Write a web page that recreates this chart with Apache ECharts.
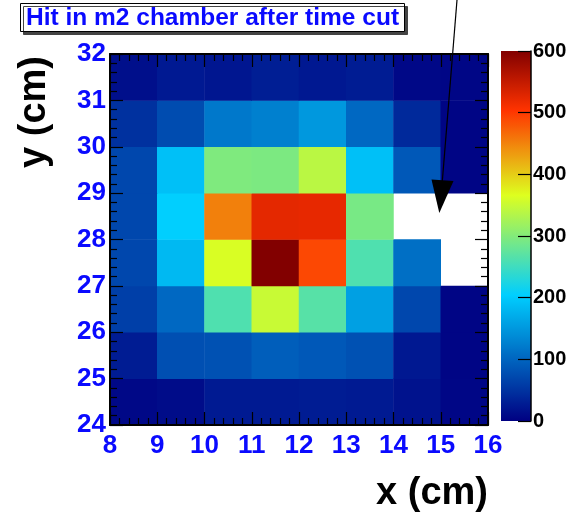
<!DOCTYPE html>
<html>
<head>
<meta charset="utf-8">
<script src="https://cdn.jsdelivr.net/npm/echarts@6/dist/echarts.min.js"></script>
<style>
  html, body { margin: 0; padding: 0; background: #fff; }
  #chart { width: 581px; height: 513px; }
</style>
</head>
<body>
<div id="chart"></div>
<script>
// Bin lower edges (1 cm bins)
const xBins = ['8', '9', '10', '11', '12', '13', '14', '15'];
const yBins = ['24', '25', '26', '27', '28', '29', '30', '31'];

// Hit counts per row, x = 8..15 (null = empty bin)
const row24 = [8, 12, 26, 26, 28, 26, 18, 6];
const row25 = [28, 78, 80, 93, 87, 80, 24, 5];
const row26 = [62, 103, 262, 350, 268, 158, 70, 5];
const row27 = [70, 183, 362, 600, 490, 262, 110, null];
const row28 = [70, 205, 452, 525, 523, 292, null, null];
const row29 = [70, 190, 297, 295, 340, 190, 87, 5];
const row30 = [48, 75, 118, 126, 150, 103, 40, 5];
const row31 = [15, 25, 22, 30, 24, 28, 8, 6];
const rows = [row24, row25, row26, row27, row28, row29, row30, row31];

// Colour scale
const zMin = 0;
const zMax = 600;
const zTicks = 100;

// Gradient palette: stops / red / green / blue
const palStops = [0.00, 0.34, 0.61, 0.84, 1.00];
const palRed   = [0.00, 0.00, 0.87, 1.00, 0.51];
const palGreen = [0.00, 0.81, 1.00, 0.20, 0.00];
const palBlue  = [0.51, 1.00, 0.12, 0.00, 0.00];

function paletteAt(t) {
  let i = 0;
  while (i < palStops.length - 2 && t > palStops[i + 1]) i++;
  const f = (t - palStops[i]) / (palStops[i + 1] - palStops[i]);
  const ch = a => Math.round(255 * (a[i] + (a[i + 1] - a[i]) * f));
  return 'rgb(' + ch(palRed) + ',' + ch(palGreen) + ',' + ch(palBlue) + ')';
}
const palette = [];
for (let k = 0; k <= 100; k++) palette.push(paletteAt(k / 100));

const cells = [];
rows.forEach((r, yi) => r.forEach((v, xi) => {
  if (v !== null) cells.push([xi, yi, v]);
}));

const FONT = '"Liberation Sans", Arial, Helvetica, sans-serif';
const BLUE = '#0a0aff';

const valueAxisCommon = {
  type: 'value',
  gridIndex: 0,
  z: 10,
  interval: 1,
  axisLine: { show: true, onZero: false, lineStyle: { color: '#000', width: 2 } },
  axisTick: { show: true, inside: true, length: 13, lineStyle: { color: '#000', width: 1.2 } },
  minorTick: { show: true, splitNumber: 5, length: 7, lineStyle: { color: '#000', width: 1.2 } },
  splitLine: { show: false }
};
const labelStyle = { color: BLUE, fontFamily: FONT, fontWeight: 'bold', fontSize: 26 };

const chart = echarts.init(document.getElementById('chart'), null, { renderer: 'canvas' });
chart.setOption({
  animation: false,
  backgroundColor: '#fff',
  title: {
    text: 'Hit in m2 chamber after time cut',
    left: 20,
    top: 5,
    padding: [2, 6, 1, 6],
    backgroundColor: '#fff',
    borderColor: '#000',
    borderWidth: 1,
    shadowColor: '#444',
    shadowOffsetX: 3,
    shadowOffsetY: 3,
    shadowBlur: 0,
    textStyle: { color: BLUE, fontFamily: FONT, fontWeight: 'bold', fontSize: 24.5, lineHeight: 22 }
  },
  grid: [
    { left: 110, top: 54, right: 93, bottom: 88, containLabel: false },
    { left: 501, top: 51, width: 30, height: 370, containLabel: false }
  ],
  xAxis: [
    { type: 'category', gridIndex: 0, data: xBins, show: false, position: 'bottom' },
    Object.assign({}, valueAxisCommon, {
      min: 8, max: 16, position: 'bottom',
      axisLabel: Object.assign({ margin: 8 }, labelStyle)
    }),
    Object.assign({}, valueAxisCommon, {
      min: 8, max: 16, position: 'top', axisLabel: { show: false }
    }),
    { type: 'value', gridIndex: 1, min: 0, max: 1, show: false }
  ],
  yAxis: [
    { type: 'category', gridIndex: 0, data: yBins, show: false, position: 'left' },
    Object.assign({}, valueAxisCommon, {
      min: 24, max: 32, position: 'left',
      axisLabel: Object.assign({ margin: 4, padding: [6, 0, 0, 0] }, labelStyle)
    }),
    Object.assign({}, valueAxisCommon, {
      min: 24, max: 32, position: 'right', axisLabel: { show: false }
    }),
    {
      // colour bar scale
      type: 'value', gridIndex: 1, min: zMin, max: zMax, interval: zTicks,
      position: 'right', z: 10,
      axisLine: { show: true, onZero: false, lineStyle: { color: '#000', width: 1.5 } },
      axisTick: { show: true, inside: true, length: 13, lineStyle: { color: '#000', width: 1.2 } },
      splitLine: { show: false },
      axisLabel: { margin: 2, color: '#000', fontFamily: FONT, fontWeight: 'bold', fontSize: 20 }
    }
  ],
  visualMap: {
    type: 'continuous',
    show: false,
    min: zMin,
    max: zMax,
    dimension: 2,
    seriesIndex: 0,
    inRange: { color: palette }
  },
  series: [{
    type: 'heatmap',
    xAxisIndex: 0,
    yAxisIndex: 0,
    data: cells,
    itemStyle: { borderWidth: 0 },
    emphasis: { disabled: true }
  }],
  graphic: [
    {
      // colour bar gradient (bottom = zMin, top = zMax)
      type: 'rect', z: 1,
      shape: { x: 501, y: 51, width: 30, height: 370 },
      style: {
        fill: new echarts.graphic.LinearGradient(0, 1, 0, 0,
          palette.map((c, k) => ({ offset: k / (palette.length - 1), color: c })))
      }
    },
    {
      type: 'text',
      left: 16, top: 56,
      rotation: Math.PI / 2,
      style: { text: 'y (cm)', fill: '#000', font: 'bold 38px ' + FONT }
    },
    {
      type: 'text',
      right: 93, top: 475,
      style: { text: 'x (cm)', fill: '#000', font: 'bold 38px ' + FONT }
    },
    {
      type: 'line', z: 20,
      shape: { x1: 457, y1: 0, x2: 442, y2: 185 },
      style: { stroke: '#000', lineWidth: 1.2 }
    },
    {
      type: 'polygon', z: 20,
      shape: { points: [[431.5, 179.5], [453.5, 181], [439.3, 213]] },
      style: { fill: '#000' }
    }
  ]
});
</script>
</body>
</html>
